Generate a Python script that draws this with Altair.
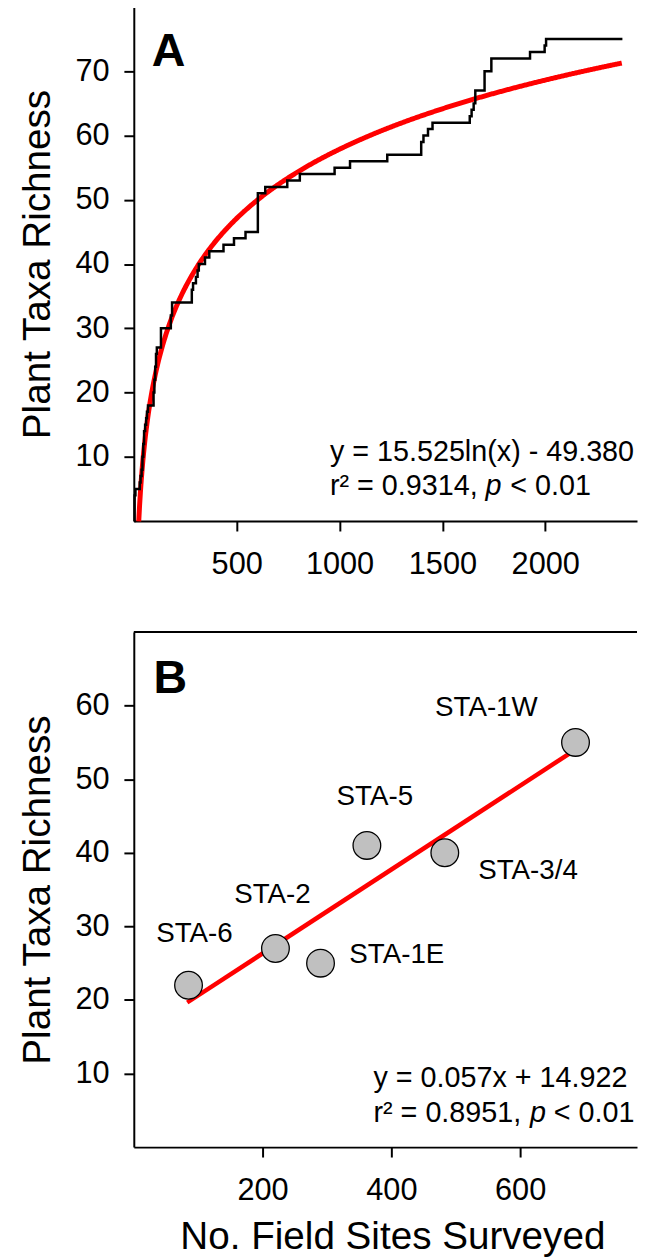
import altair as alt
import pandas as pd

FONT = "Liberation Sans"

# ---------------- Panel A: cumulative plant taxa vs. sites surveyed ----------------
a_sites = [0, 4, 8, 29, 33, 38, 42, 46, 50, 55, 60, 64, 69, 96, 100, 104, 108, 112, 132, 180,
           186, 282, 288, 302, 310, 316, 346, 367, 436, 487, 543, 603, 639, 746, 807, 976, 1051,
           1232, 1397, 1408, 1430, 1452, 1633, 1642, 1652, 1660, 1705, 1738, 1926, 1997, 2004, 2375]
a_rich = [0, 4, 5, 6, 7, 8, 10, 12, 14, 15, 16, 17, 18, 20, 22, 24, 26, 27, 30, 32,
          34, 36, 37, 38, 39, 40, 41, 42, 43, 44, 45, 51, 52, 53, 54, 55, 56,
          57, 59, 60, 61, 62, 63, 64, 65, 67, 70, 72, 73, 74, 75, 75]
fit_a_slope = 15.525
fit_a_intercept = -49.380
fit_a_range = [24, 2376]
a_xticks = [500, 1000, 1500, 2000]
a_yticks = [10, 20, 30, 40, 50, 60, 70]

# ---------------- Panel B: richness vs. sites per STA ----------------
b_names = ["STA-6", "STA-2", "STA-1E", "STA-5", "STA-3/4", "STA-1W"]
b_sites = [85, 220, 290, 362, 483, 686]
b_rich = [22, 27, 25, 41, 40, 55]
fit_b_slope = 0.057
fit_b_intercept = 14.922
fit_b_range = [83, 686]
b_xticks = [200, 400, 600]
b_yticks = [10, 20, 30, 40, 50, 60]

# label offsets (pixels) from each point
label_dx = [6, -3, 77, 8, 84, -90]
label_dy = [-52, -54, -8, -49, 18, -35]

W = 508
HA = 519
HB = 520

no_border = alt.ViewBackground(stroke="transparent", strokeWidth=0)


def axis(values, title=None, **kw):
    args = dict(values=values, grid=False, domainColor="black", domainWidth=2,
                tickColor="black", tickWidth=2, tickSize=10, labelFontSize=31,
                labelColor="black", labelFont=FONT, titleFont=FONT, titleFontSize=39,
                titleFontWeight="normal", titleColor="black", format="d")
    args["title"] = title
    args.update(kw)
    return alt.Axis(**args)


one = pd.DataFrame({"v": [0]})


def txt(s, x, y, size=29, align="left", baseline="middle", weight="normal", style="normal"):
    return alt.Chart(one).mark_text(text=s, align=align, baseline=baseline, fontSize=size,
                                    font=FONT, fontWeight=weight, fontStyle=style,
                                    color="black").encode(x=alt.value(x), y=alt.value(y))


# ---- Panel A ----
dfA = pd.DataFrame({"sites": a_sites, "rich": a_rich})
xA = alt.X("sites:Q", scale=alt.Scale(domain=[0, 2446], nice=False, zero=False),
           axis=axis(a_xticks, labelPadding=19))
yA = alt.Y("rich:Q", scale=alt.Scale(domain=[0, 80], nice=False),
           axis=axis(a_yticks, "Plant Taxa Richness", labelPadding=15, titlePadding=18))

stepA = alt.Chart(dfA).mark_line(interpolate="step-after", color="black", strokeWidth=2.5).encode(x=xA, y=yA)
fitA = (alt.Chart(alt.sequence(fit_a_range[0], fit_a_range[1], 4, as_="sites"))
        .transform_calculate(rich=f"{fit_a_slope}*log(datum.sites)+({fit_a_intercept})")
        .mark_line(color="#ff0000", strokeWidth=5).encode(x="sites:Q", y="rich:Q"))
topA = alt.Chart(pd.DataFrame({"rich": [80]})).mark_rule(color="black", strokeWidth=2).encode(y="rich:Q")

panelA = alt.layer(
    fitA, stepA, topA,
    txt("A", 18, 60, size=47, baseline="alphabetic", weight="bold"),
    txt("y = 15.525ln(x) - 49.380", 198, 449),
    txt("r² = 0.9314, ", 198, 484),
    txt("p", 355, 484, style="italic"),
    txt("< 0.01", 380, 484),
).properties(width=W, height=HA, view=no_border)

# ---- Panel B ----
dfB = pd.DataFrame({"name": b_names, "sites": b_sites, "rich": b_rich})
xB = alt.X("sites:Q", scale=alt.Scale(domain=[0, 781.5], nice=False, zero=False),
           axis=axis(b_xticks, "No. Field Sites Surveyed", labelPadding=19, titlePadding=12,
                     titleX=261))
yB = alt.Y("rich:Q", scale=alt.Scale(domain=[0, 70], nice=False),
           axis=axis(b_yticks, "Plant Taxa Richness", labelPadding=15, titlePadding=18))

lineB = (alt.Chart(pd.DataFrame({"sites": fit_b_range}))
         .transform_calculate(rich=f"{fit_b_slope}*datum.sites+{fit_b_intercept}")
         .mark_line(color="#ff0000", strokeWidth=4.5).encode(x=xB, y=yB))
ptsB = alt.Chart(dfB).mark_point(shape="circle", filled=True, size=780, fill="#c0c0c0",
                                 stroke="black", strokeWidth=1.3, opacity=1).encode(x="sites:Q", y="rich:Q")
topB = alt.Chart(pd.DataFrame({"rich": [70]})).mark_rule(color="black", strokeWidth=2).encode(y="rich:Q")

labels = []
for i, nm in enumerate(b_names):
    labels.append(
        alt.Chart(dfB).transform_filter(alt.datum.name == nm)
        .mark_text(fontSize=28, font=FONT, color="black", dx=label_dx[i], dy=label_dy[i])
        .encode(x="sites:Q", y="rich:Q", text="name:N")
    )

panelB = alt.layer(
    lineB, ptsB, topB, *labels,
    txt("B", 20, 62, size=47, baseline="alphabetic", weight="bold"),
    txt("y = 0.057x + 14.922", 242, 450),
    txt("r² = 0.8951, ", 242, 486),
    txt("p", 400, 486, style="italic"),
    txt("< 0.01", 424, 486),
).properties(width=W, height=HB, view=no_border)

chart = (alt.vconcat(panelA, panelB, spacing=52)
         .properties(padding={"left": 10, "top": -8, "right": 0, "bottom": 0})
         .configure(font=FONT)
         .configure_view(stroke="transparent", strokeWidth=0))

chart.save("out.html", embed_options={"renderer": "svg", "actions": False})
